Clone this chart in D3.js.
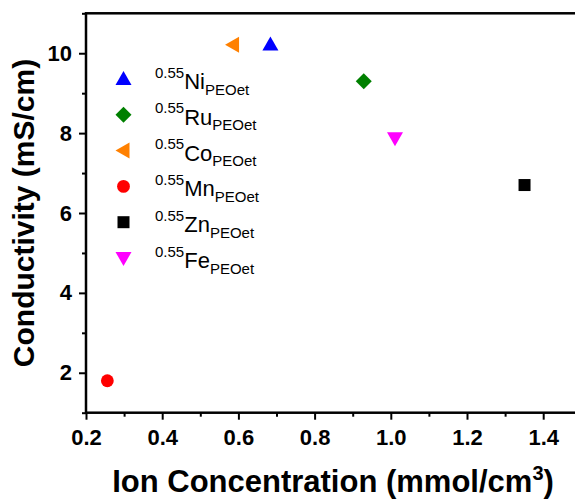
<!DOCTYPE html>
<html>
<head>
<meta charset="utf-8">
<script src="https://cdn.jsdelivr.net/npm/d3@7"></script>
<style>
  html, body { margin: 0; padding: 0; background: #fff; }
  svg { display: block; font-family: Arial, "Liberation Sans", sans-serif; }
</style>
</head>
<body>
<svg id="chart" width="575" height="502"></svg>
<script>
// Samples (metal in PEOet), ion concentration vs conductivity
const samples = ["Ni", "Ru", "Co", "Mn", "Zn", "Fe"];
const ionConcentration = [0.684, 0.929, 0.586, 0.256, 1.351, 1.011];   // mmol/cm3
const conductivity = [10.22, 9.30, 10.21, 1.80, 6.70, 7.87];           // mS/cm
const colors = ["#0000FF", "#008000", "#FF8000", "#FF0000", "#000000", "#FF00FF"];
const shapes = ["triUp", "diamond", "triLeft", "circle", "square", "triDown"];

const xMajorTicks = [0.2, 0.4, 0.6, 0.8, 1.0, 1.2, 1.4];
const xMinorTicks = [0.3, 0.5, 0.7, 0.9, 1.1, 1.3, 1.5];
const yMajorTicks = [2, 4, 6, 8, 10];
const yMinorTicks = [1, 3, 5, 7, 9, 11];

const svg = d3.select("#chart");
const x = d3.scaleLinear().domain([0.2, 1.5]).range([86, 581.3]);
const y = d3.scaleLinear().domain([1, 11]).range([412.7, 13.3]);

// Marker shapes, all scaled from the same symbol size
const symbolTypes = {
  triUp: { draw(c, s) { const r = Math.sqrt(s) / 2; c.moveTo(0, -r); c.lineTo(r, r * 0.75); c.lineTo(-r, r * 0.75); c.closePath(); } },
  triDown: { draw(c, s) { const r = Math.sqrt(s) / 2; c.moveTo(0, r); c.lineTo(r, -r * 0.75); c.lineTo(-r, -r * 0.75); c.closePath(); } },
  triLeft: { draw(c, s) { const r = Math.sqrt(s) / 2; c.moveTo(-r, 0); c.lineTo(r * 0.75, -r); c.lineTo(r * 0.75, r); c.closePath(); } },
  diamond: { draw(c, s) { const r = Math.sqrt(s) / 2; c.moveTo(0, -r); c.lineTo(r, 0); c.lineTo(0, r); c.lineTo(-r, 0); c.closePath(); } },
  square: { draw(c, s) { const r = Math.sqrt(s) / 2 * 0.75; c.rect(-r, -r, 2 * r, 2 * r); } },
  circle: { draw(c, s) { const r = Math.sqrt(s) / 2 * 0.8; c.moveTo(r, 0); c.arc(0, 0, r, 0, 2 * Math.PI); } }
};
const symbol = name => d3.symbol().type(symbolTypes[name]).size(256)();

// Axes
const styleAxis = (g, fontSize) => {
  g.select(".domain").remove();
  g.selectAll(".tick line").attr("stroke", "#000").attr("stroke-width", 2);
  g.selectAll(".tick text").attr("fill", "#000").attr("font-size", fontSize)
    .attr("font-weight", "bold").attr("font-family", "Arial, 'Liberation Sans', sans-serif");
};

svg.append("g").attr("transform", `translate(0,${y.range()[0]})`)
  .call(d3.axisBottom(x).tickValues(xMajorTicks).tickSize(7).tickPadding(10).tickFormat(d3.format(".1f")))
  .call(g => styleAxis(g, 22));
svg.append("g").attr("transform", `translate(0,${y.range()[0]})`)
  .call(d3.axisBottom(x).tickValues(xMinorTicks).tickSize(4).tickFormat(""))
  .call(g => styleAxis(g, 22));
svg.append("g").attr("transform", `translate(${x.range()[0]},0)`)
  .call(d3.axisLeft(y).tickValues(yMajorTicks).tickSize(7).tickPadding(7).tickFormat(d3.format("d")))
  .call(g => styleAxis(g, 22));
svg.append("g").attr("transform", `translate(${x.range()[0]},0)`)
  .call(d3.axisLeft(y).tickValues(yMinorTicks).tickSize(4).tickFormat(""))
  .call(g => styleAxis(g, 22));

// Plot frame
svg.append("rect")
  .attr("x", x.range()[0]).attr("y", y.range()[1])
  .attr("width", x.range()[1] - x.range()[0]).attr("height", y.range()[0] - y.range()[1])
  .attr("fill", "none").attr("stroke", "#000").attr("stroke-width", 2.5);

// Data points
svg.append("g").selectAll("path").data(samples).join("path")
  .attr("transform", (d, i) => `translate(${x(ionConcentration[i])},${y(conductivity[i])})`)
  .attr("d", (d, i) => symbol(shapes[i]))
  .attr("fill", (d, i) => colors[i]);

// Legend
const legend = svg.append("g");
samples.forEach((name, i) => {
  const yc = 79 + i * 35.8;
  legend.append("path")
    .attr("transform", `translate(123.5,${yc})`)
    .attr("d", symbol(shapes[i]))
    .attr("fill", colors[i]);
  const t = legend.append("text").attr("x", 155).attr("y", yc + 10).attr("fill", "#000");
  t.append("tspan").attr("font-size", 15).attr("dy", -11.5).text("0.55");
  t.append("tspan").attr("font-size", 22).attr("dy", 11.5).text(name);
  t.append("tspan").attr("font-size", 15).attr("dy", 5.5).text("PEOet");
});

// Axis titles
const xt = svg.append("text").attr("x", 333).attr("y", 492)
  .attr("text-anchor", "middle").attr("font-size", 31).attr("font-weight", "bold").attr("fill", "#000");
xt.append("tspan").text("Ion Concentration (mmol/cm");
xt.append("tspan").attr("font-size", 20).attr("dy", -12).text("3");
xt.append("tspan").attr("dy", 12).text(")");

svg.append("text").attr("transform", "translate(34,213) rotate(-90)")
  .attr("text-anchor", "middle").attr("font-size", 30).attr("font-weight", "bold").attr("fill", "#000")
  .text("Conductivity (mS/cm)");
</script>
</body>
</html>
